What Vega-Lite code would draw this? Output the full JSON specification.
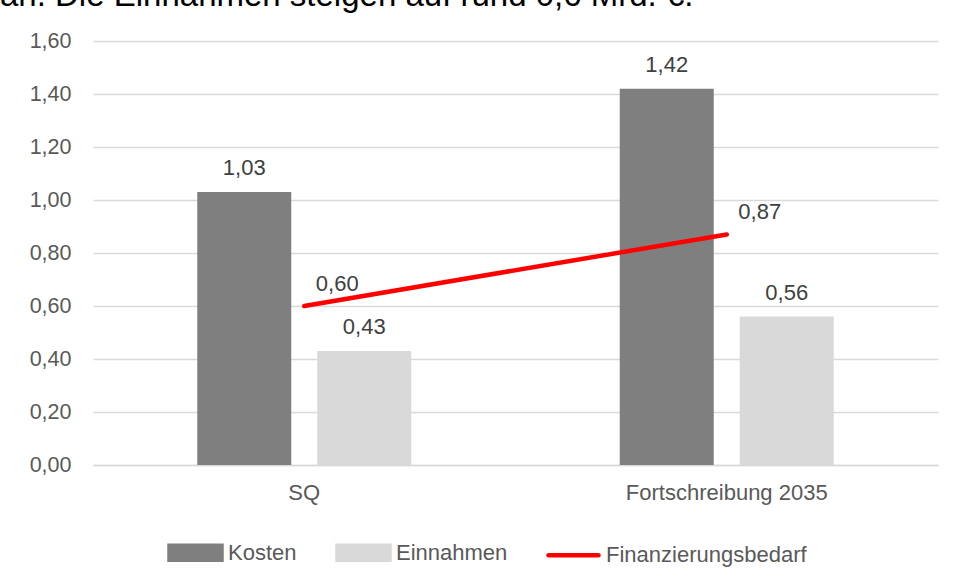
{
  "$schema": "https://vega.github.io/schema/vega-lite/v6.json",
  "width": 845,
  "height": 424,
  "autosize": {"type": "none"},
  "padding": {"left": 93, "top": 41, "right": 19, "bottom": 118},
  "background": "white",
  "config": {
    "locale": {"number": {"decimal": ",", "thousands": ".", "grouping": [3], "currency": ["", " €"]}},
    "view": {"stroke": null},
    "font": "Liberation Sans"
  },
  "title": {
    "text": "an. Die Einnahmen steigen auf rund 0,6 Mrd. €.",
    "anchor": "start",
    "frame": "group",
    "orient": "top",
    "dx": -93,
    "dy": 26,
    "offset": 10,
    "baseline": "bottom",
    "fontSize": 33,
    "fontWeight": "normal",
    "font": "Liberation Sans",
    "color": "#000000"
  },
  "data": {
    "values": [
      {"cat": "SQ", "series": "Kosten", "value": 1.03},
      {"cat": "SQ", "series": "Einnahmen", "value": 0.43},
      {"cat": "Fortschreibung 2035", "series": "Kosten", "value": 1.42},
      {"cat": "Fortschreibung 2035", "series": "Einnahmen", "value": 0.56},
      {"cat": "SQ", "series": "Finanzierungsbedarf", "value": 0.60},
      {"cat": "Fortschreibung 2035", "series": "Finanzierungsbedarf", "value": 0.87}
    ]
  },
  "encoding": {
    "x": {
      "field": "cat", "type": "nominal", "sort": ["SQ", "Fortschreibung 2035"],
      "scale": {"paddingInner": 0.432, "paddingOuter": 0.216},
      "axis": {"title": null, "labelAngle": 0, "ticks": false, "domainColor": "#d9d9d9", "domainWidth": 1.5,
               "labelFontSize": 22, "labelColor": "#595959", "labelPadding": 17, "labelLimit": 400}
    },
    "y": {
      "field": "value", "type": "quantitative",
      "scale": {"domain": [0, 1.6]},
      "axis": {"title": null, "values": [0, 0.2, 0.4, 0.6, 0.8, 1.0, 1.2, 1.4, 1.6], "format": ".2f",
               "domain": false, "ticks": false, "gridColor": "#d9d9d9", "gridWidth": 1.3,
               "labelFontSize": 21.5, "labelColor": "#595959", "labelPadding": 22}
    }
  },
  "layer": [
    {
      "transform": [{"filter": "datum.series !== 'Finanzierungsbedarf'"}],
      "mark": {"type": "bar"},
      "encoding": {
        "xOffset": {"field": "series", "type": "nominal", "scale": {"domain": ["Kosten", "Einnahmen"], "paddingInner": 0.2167, "paddingOuter": 0.1083}},
        "color": {
          "field": "series", "type": "nominal",
          "scale": {"domain": ["Kosten", "Einnahmen", "Finanzierungsbedarf"], "range": ["#7f7f7f", "#d9d9d9", "#ff0000"]},
          "legend": {
            "title": null, "orient": "none", "direction": "horizontal", "legendX": 74, "legendY": 483,
            "symbolSize": 2704, "labelOffset": 4, "columnPadding": 31, "padding": 0, "labelLimit": 400,
            "labelFontSize": 22, "labelColor": "#595959",
            "symbolType": "M-1,-0.27H1V0.27H-1Z",
            "encode": {
              "symbols": {"update": {
                "shape": {"signal": "datum.value === 'Finanzierungsbedarf' ? 'M-0.96,0H0.96' : 'M-1,-0.27H1V0.27H-1Z'"},
                "fill": {"signal": "datum.value === 'Kosten' ? '#7f7f7f' : datum.value === 'Einnahmen' ? '#d9d9d9' : 'transparent'"},
                "stroke": {"signal": "datum.value === 'Finanzierungsbedarf' ? '#ff0000' : 'transparent'"},
                "strokeWidth": {"value": 4.5},
                "strokeCap": {"value": "round"},
                "opacity": {"value": 1}
              }}
            }
          }
        }
      }
    },
    {
      "transform": [{"filter": "datum.series !== 'Finanzierungsbedarf'"}],
      "mark": {"type": "text", "baseline": "alphabetic", "dy": -17, "fontSize": 22, "color": "#404040"},
      "encoding": {
        "xOffset": {"field": "series", "type": "nominal"},
        "text": {"field": "value", "type": "quantitative", "format": ".2f"}
      }
    },
    {
      "transform": [{"filter": "datum.series === 'Finanzierungsbedarf'"}],
      "mark": {"type": "line", "strokeWidth": 4.5, "strokeCap": "round"},
      "encoding": {
        "color": {"field": "series", "type": "nominal"}
      }
    },
    {
      "transform": [{"filter": "datum.series === 'Finanzierungsbedarf'"}],
      "mark": {"type": "text", "baseline": "alphabetic", "dx": 33, "dy": -15, "fontSize": 22, "color": "#404040"},
      "encoding": {
        "text": {"field": "value", "type": "quantitative", "format": ".2f"}
      }
    }
  ]
}
